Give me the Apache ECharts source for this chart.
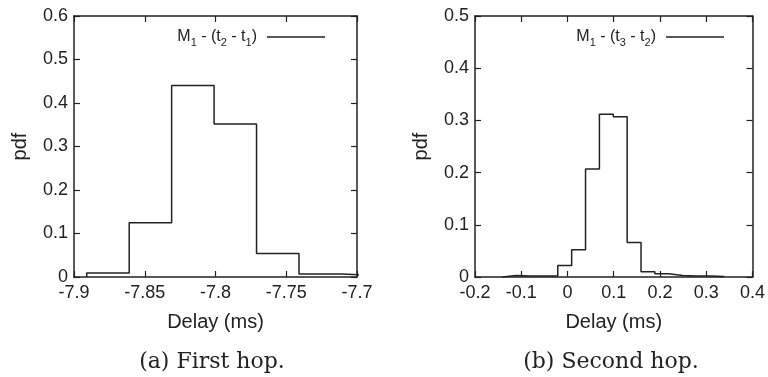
<!DOCTYPE html>
<html>
<head>
<meta charset="utf-8">
<script src="https://cdn.jsdelivr.net/npm/echarts@6/dist/echarts.min.js"></script>
<style>
  html, body { margin: 0; padding: 0; background: #fff; }
  #chart { width: 768px; height: 377px; }
</style>
</head>
<body>
<div id="chart"></div>
<script>
// First hop: bin edges (ms) and pdf per bin
const hop1Edges = [-7.891, -7.861, -7.831, -7.801, -7.771, -7.741, -7.711, -7.681];
const hop1Pdf = [0.009, 0.125, 0.44, 0.352, 0.054, 0.007, 0.003];

// Second hop
const hop2Edges = [-0.141, -0.111, -0.081, -0.051, -0.021, 0.009, 0.039, 0.069, 0.099,
  0.129, 0.159, 0.189, 0.219, 0.249, 0.279, 0.309, 0.339];
const hop2Pdf = [0.003, 0.002, 0.002, 0.002, 0.022, 0.052, 0.207, 0.312, 0.307,
  0.066, 0.010, 0.006, 0.003, 0.002, 0.002, 0.001];

const hop1Ticks = { min: -7.9, max: -7.7, interval: 0.05 };
const hop2Ticks = { min: -0.2, max: 0.4, interval: 0.1 };
const hop1YMax = 0.6;
const hop2YMax = 0.5;

const ink = "#222";
const sans = "Liberation Sans, Arial, sans-serif";

// histogram outline (gnuplot "histeps" look)
const stepPoints = (edges, vals) => {
  const pts = [[edges[0], 0]];
  vals.forEach((v, i) => {
    pts.push([edges[i], v]);
    pts.push([edges[i + 1], v]);
  });
  pts.push([edges[edges.length - 1], 0]);
  return pts;
};

const chart = echarts.init(document.getElementById("chart"));

const frameLine = { show: true, onZero: false, lineStyle: { color: ink, width: 1.5 } };
const innerTick = { show: true, inside: true, length: 6, lineStyle: { color: ink, width: 1.2 } };

const mkX = (grid, t, fmt) => ([
  {
    type: "value", gridIndex: grid, position: "bottom", min: t.min, max: t.max, interval: t.interval,
    axisLine: frameLine, axisTick: innerTick, splitLine: { show: false },
    axisLabel: { color: ink, fontSize: 18, fontFamily: sans, margin: 7, formatter: fmt },
    name: "Delay (ms)", nameLocation: "middle", nameGap: 35,
    nameTextStyle: { color: ink, fontSize: 20, fontFamily: sans },
  },
  {
    type: "value", gridIndex: grid, position: "top", min: t.min, max: t.max, interval: t.interval,
    axisLine: frameLine, axisTick: innerTick, splitLine: { show: false },
    axisLabel: { show: false },
  },
]);

const mkY = (grid, max) => ([
  {
    type: "value", gridIndex: grid, position: "left", min: 0, max: max, interval: 0.1,
    axisLine: frameLine, axisTick: innerTick, splitLine: { show: false },
    axisLabel: { color: ink, fontSize: 18, fontFamily: sans, margin: 6 },
    name: "pdf", nameLocation: "middle", nameGap: 44, nameRotate: 90,
    nameTextStyle: { color: ink, fontSize: 20, fontFamily: sans },
  },
  {
    type: "value", gridIndex: grid, position: "right", min: 0, max: max, interval: 0.1,
    axisLine: frameLine, axisTick: innerTick, splitLine: { show: false },
    axisLabel: { show: false },
  },
]);

const legendRich = {
  n: { fontSize: 16, fontFamily: sans, color: ink, lineHeight: 22, verticalAlign: "middle" },
  s: { fontSize: 11, fontFamily: sans, color: ink, lineHeight: 11, verticalAlign: "bottom" },
};
const name1 = "M1 - (t2 - t1)";
const name2 = "M1 - (t3 - t2)";
const legendText = (nm) => {
  const d = nm.match(/\d/g);
  return `{n|M}{s|${d[0]}}{n| - (t}{s|${d[1]}}{n| - t}{s|${d[2]}}{n|)}`;
};
const mkLegend = (nm, right) => ({
  data: [nm], right: right, top: 24, align: "right",
  icon: "rect", itemWidth: 58, itemHeight: 1.5,
  itemStyle: { color: ink },
  formatter: legendText,
  textStyle: { rich: legendRich, padding: [0, 5, 0, 0] },
  selectedMode: false,
});

const option = {
  animation: false,
  backgroundColor: "#fff",
  grid: [
    { left: 74, width: 283, top: 16, height: 261 },
    { left: 475, width: 281, top: 16, height: 261 },
  ],
  xAxis: [
    ...mkX(0, hop1Ticks, (v) => `${+v.toFixed(2)}`),
    ...mkX(1, hop2Ticks, (v) => `${+v.toFixed(1)}`),
  ],
  yAxis: [...mkY(0, hop1YMax), ...mkY(1, hop2YMax)],
  legend: [mkLegend(name1, 438), mkLegend(name2, 39)],
  series: [
    {
      name: name1, type: "line", xAxisIndex: 0, yAxisIndex: 0,
      data: stepPoints(hop1Edges, hop1Pdf), symbol: "none", clip: true,
      lineStyle: { color: ink, width: 1.5 }, itemStyle: { color: ink },
    },
    {
      name: name2, type: "line", xAxisIndex: 2, yAxisIndex: 2,
      data: stepPoints(hop2Edges, hop2Pdf), symbol: "none", clip: true,
      lineStyle: { color: ink, width: 1.5 }, itemStyle: { color: ink },
    },
  ],
  graphic: [
    {
      type: "text",
      style: { text: "(a) First hop.", font: "22px 'DejaVu Serif', serif", fill: ink, x: 212, y: 362, align: "center", verticalAlign: "middle" },
    },
    {
      type: "text",
      style: { text: "(b) Second hop.", font: "22px 'DejaVu Serif', serif", fill: ink, x: 611, y: 362, align: "center", verticalAlign: "middle" },
    },
  ],
};

chart.setOption(option);
</script>
</body>
</html>
